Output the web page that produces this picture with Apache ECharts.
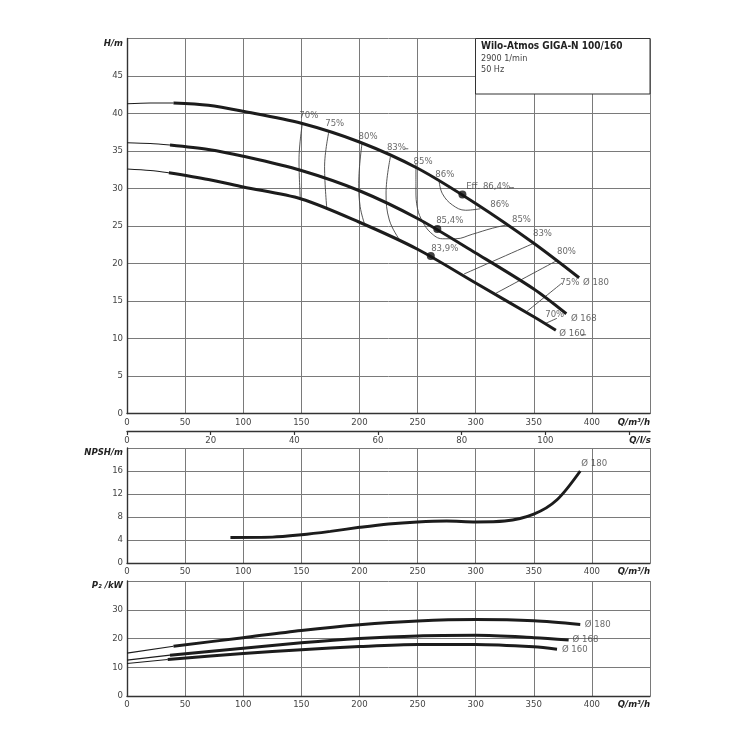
<!DOCTYPE html>
<html><head><meta charset="utf-8">
<script src="https://cdn.jsdelivr.net/npm/echarts@6/dist/echarts.min.js"></script>
<style>html,body{margin:0;padding:0;background:#fff}#c{width:750px;height:750px}</style>
</head><body><div id="c"></div>
<script>
// ---------- data ----------
const qTicksMax = 450;            // m³/h axis range
const lsMax = 125;                // l/s axis range
const lsTicks = [0,20,40,60,80,100,120];
// Head curves H(Q) [Q m³/h, H m]
const h180Thin = [[0,41.3],[20,41.4],[40,41.4]];
const h180 = [[40,41.4],[70,41.1],[100,40.3],[150,38.7],[200,36.2],[250,32.7],[300,28.0],[350,22.7],[389,18.1]];
const h168Thin = [[0,36.1],[20,36.0],[37,35.8]];
const h168 = [[37,35.8],[70,35.2],[100,34.3],[150,32.4],[200,29.7],[250,26.0],[300,21.4],[350,16.6],[378,13.3]];
const h160Thin = [[0,32.6],[20,32.4],[36,32.1]];
const h160 = [[36,32.1],[70,31.2],[100,30.2],[150,28.6],[200,25.5],[250,21.9],[300,17.4],[350,12.9],[369,11.1]];
// best efficiency points
const bepPoints = [[288.6,29.2],[267,24.6],[261.4,21.0]];
// iso-efficiency lines
const eff70L = [[150.9,38.7],[148,33.8],[149.1,28.6]];
const eff75L = [[173.7,37.6],[170,32.9],[172,27.2]];
const eff80L = [[202.3,36.1],[199.4,30.7],[200.6,27.6],[204.3,25.3]];
const eff83L = [[226.6,34.2],[222.9,29.4],[225.7,25.8],[234.3,23.2]];
const eff85 = [[248.6,33.3],[248.6,29.8],[250,27.3],[254.3,25.6],[261.4,24.1],[271.4,23.3],[282.9,23.3],[297.1,23.9],[314.3,24.7],[328.6,25.2]];
const eff86 = [[268.6,30.9],[271.4,29.3],[280,27.8],[291.4,27.1],[304,27.3]];
const eff83R = [[350,22.7],[290,18.6]];
const eff80R = [[370,20.4],[317,16.0]];
const eff75R = [[374.3,17.4],[344,13.6]];
const eff70R = [[370,12.7],[360,12.0]];
// short leader strokes next to some labels
const leaderEff = [[329,30.1],[333,30.1]];
const leader83 = [[239,35.3],[242,35.3]];
const leader160 = [[391,10.5],[395,10.5]];
// curve labels [Q, H, text]
const headLabels = [
  [156.4,39.7,'70%'],[178.7,38.6,'75%'],[207.4,36.9,'80%'],[231.8,35.4,'83%'],
  [254.7,33.6,'85%'],[273.4,31.9,'86%'],[310.7,30.2,'Eff. 86,4%'],[320.7,27.8,'86%'],
  [277.7,25.7,'85,4%'],[339.4,25.9,'85%'],[273.4,22.0,'83,9%'],[357.5,24.0,'83%'],
  [378.1,21.6,'80%'],[381,17.5,'75%'],[403.5,17.5,'Ø 180'],[368,13.2,'70%'],
  [393,12.7,'Ø 168'],[383,10.6,'Ø 160']
];
// NPSH curve [Q, NPSH m]
const npsh180 = [[89,4.45],[125,4.5],[150,4.9],[175,5.5],[200,6.2],[225,6.8],[250,7.15],[275,7.3],[300,7.15],[325,7.3],[350,8.5],[370,11.0],[390,16]];
const npshLabels = [[402,17.3,'Ø 180']];
// Power curves [Q, P2 kW]
const p180Thin = [[0,14.9],[40,17.3]];
const p180 = [[40,17.3],[100,20.3],[150,22.8],[200,24.8],[250,26.1],[300,26.6],[350,26.2],[390,24.9]];
const p168Thin = [[0,12.5],[37,14.2]];
const p168 = [[37,14.2],[100,16.6],[150,18.5],[200,20.0],[250,20.9],[300,21.1],[350,20.3],[380,19.5]];
const p160Thin = [[0,11.3],[35,12.7]];
const p160 = [[35,12.7],[100,14.8],[150,16.1],[200,17.2],[250,17.9],[300,17.9],[350,17.1],[370,16.3]];
const powerLabels = [[405,24.8,'Ø 180'],[394.5,19.6,'Ø 168'],[385.3,16.2,'Ø 160']];
// title box texts
const titleLines = ['Wilo-Atmos GIGA-N 100/160','2900 1/min','50 Hz'];

// ---------- chart ----------
const FONT = "'DejaVu Sans Condensed','Liberation Sans Narrow','Roboto',sans-serif";
const TICK = {color:'#444', fontSize:9.5, fontFamily:FONT};
const GRIDC = '#7a7a7a';
const INK = '#1c1c1c';
const NAMESTYLE = {fontWeight:'bold', fontStyle:'italic', color:'#222', fontSize:9.5, fontFamily:FONT};

function qAxis(gi){
  return {type:'value', gridIndex:gi, min:0, max:qTicksMax, interval:50,
    axisLine:{show:true, onZero:false, lineStyle:{color:'#333', width:1.4}},
    axisTick:{show:false},
    splitLine:{show:true, lineStyle:{color:GRIDC, width:1}},
    axisLabel:Object.assign({margin:4, formatter:v=> v===qTicksMax?'':String(v)}, TICK),
    name:'Q/m³/h', nameLocation:'end', nameGap:0,
    nameTextStyle:Object.assign({align:'right', verticalAlign:'top', padding:[4,0,0,0]}, NAMESTYLE)
  };
}
function yAx(gi,max,interval,title){
  return {type:'value', gridIndex:gi, min:0, max:max, interval:interval,
    axisLine:{show:true, lineStyle:{color:'#333', width:1.4}},
    axisTick:{show:false},
    splitLine:{show:true, lineStyle:{color:GRIDC, width:1}},
    axisLabel:Object.assign({margin:4, verticalAlignMaxLabel:'top',
      formatter:v=> v===max? '{n|'+title+'}' : String(v),
      rich:{n:NAMESTYLE}}, TICK)
  };
}
function line(data, xi, yi, w, color, z){
  return {type:'line', data:data, xAxisIndex:xi, yAxisIndex:yi, smooth:0.3, symbol:'none',
    lineStyle:{width:w, color:color||INK}, z:z||3, silent:true, animation:false};
}
function thinLine(data){
  return {type:'line', data:data, xAxisIndex:0, yAxisIndex:0, smooth:0.4, symbol:'none',
    lineStyle:{width:0.9, color:'#444'}, z:2, silent:true, animation:false};
}
function labels(data, xi, yi){
  return {type:'scatter', data:data, xAxisIndex:xi, yAxisIndex:yi, symbolSize:0, z:6,
    label:{show:true, position:'inside', formatter:p=>p.value[2], color:'#444', fontSize:9.5, fontFamily:FONT},
    silent:true, animation:false};
}

const series = [
  line(h180Thin,0,0,1.2), line(h180,0,0,3),
  line(h168Thin,0,0,1.2), line(h168,0,0,3),
  line(h160Thin,0,0,1.2), line(h160,0,0,3),
];
[eff70L,eff75L,eff80L,eff83L,eff85,eff86,eff83R,eff80R,eff75R,eff70R,leaderEff,leader83,leader160].forEach(d=>series.push(thinLine(d)));
series.push({type:'scatter', data:bepPoints, xAxisIndex:0, yAxisIndex:0, symbolSize:8, itemStyle:{color:'#111'}, z:7, animation:false});
series.push(labels(headLabels,0,0));
series.push(line(npsh180,2,2,3));
series.push(labels(npshLabels,2,2));
series.push(line(p180Thin,3,3,1.2), line(p180,3,3,3), line(p168Thin,3,3,1.2), line(p168,3,3,3), line(p160Thin,3,3,1.2), line(p160,3,3,3));
series.push(labels(powerLabels,3,3));

const option = {
  animation:false,
  backgroundColor:'#fff',
  textStyle:{fontFamily:FONT},
  grid:[
    {left:127, top:38.5, width:523, height:375},
    {left:127, top:430, width:523, height:1},
    {left:127, top:448, width:523, height:115},
    {left:127, top:581, width:523, height:115}
  ],
  xAxis:[
    qAxis(0),
    {type:'value', gridIndex:1, min:0, max:lsMax,
      axisLine:{show:true, lineStyle:{color:'#333', width:1.4}},
      axisTick:{show:true, length:4, customValues:lsTicks, lineStyle:{color:'#333', width:1.2}},
      splitLine:{show:false},
      axisLabel:Object.assign({margin:5, customValues:lsTicks,
        formatter:v=> v===120 ? '{n|Q/l/s}' : String(v),
        rich:{n:Object.assign({padding:[0,0,0,22]}, NAMESTYLE)}}, TICK)},
    qAxis(2),
    qAxis(3)
  ],
  yAxis:[
    yAx(0,50,5,'H/m'),
    {type:'value', gridIndex:1, show:false, min:0, max:1},
    yAx(2,20,4,'NPSH/m'),
    yAx(3,40,10,'P₂ /kW')
  ],
  series:series,
  graphic:[
    {type:'rect', z:100, shape:{x:475.5, y:38.5, width:174.5, height:55.5}, style:{fill:'#fff', stroke:'#333', lineWidth:1}},
    {type:'text', z:101, left:481, top:41, style:{text:titleLines[0], font:'bold 10px '+FONT, fill:'#222'}},
    {type:'text', z:101, left:481, top:54.5, style:{text:titleLines[1], font:'9px '+FONT, fill:'#444'}},
    {type:'text', z:101, left:481, top:65, style:{text:titleLines[2], font:'9px '+FONT, fill:'#444'}}
  ]
};
const chart = echarts.init(document.getElementById('c'), null, {renderer:'canvas'});
chart.setOption(option);
</script>
</body></html>
